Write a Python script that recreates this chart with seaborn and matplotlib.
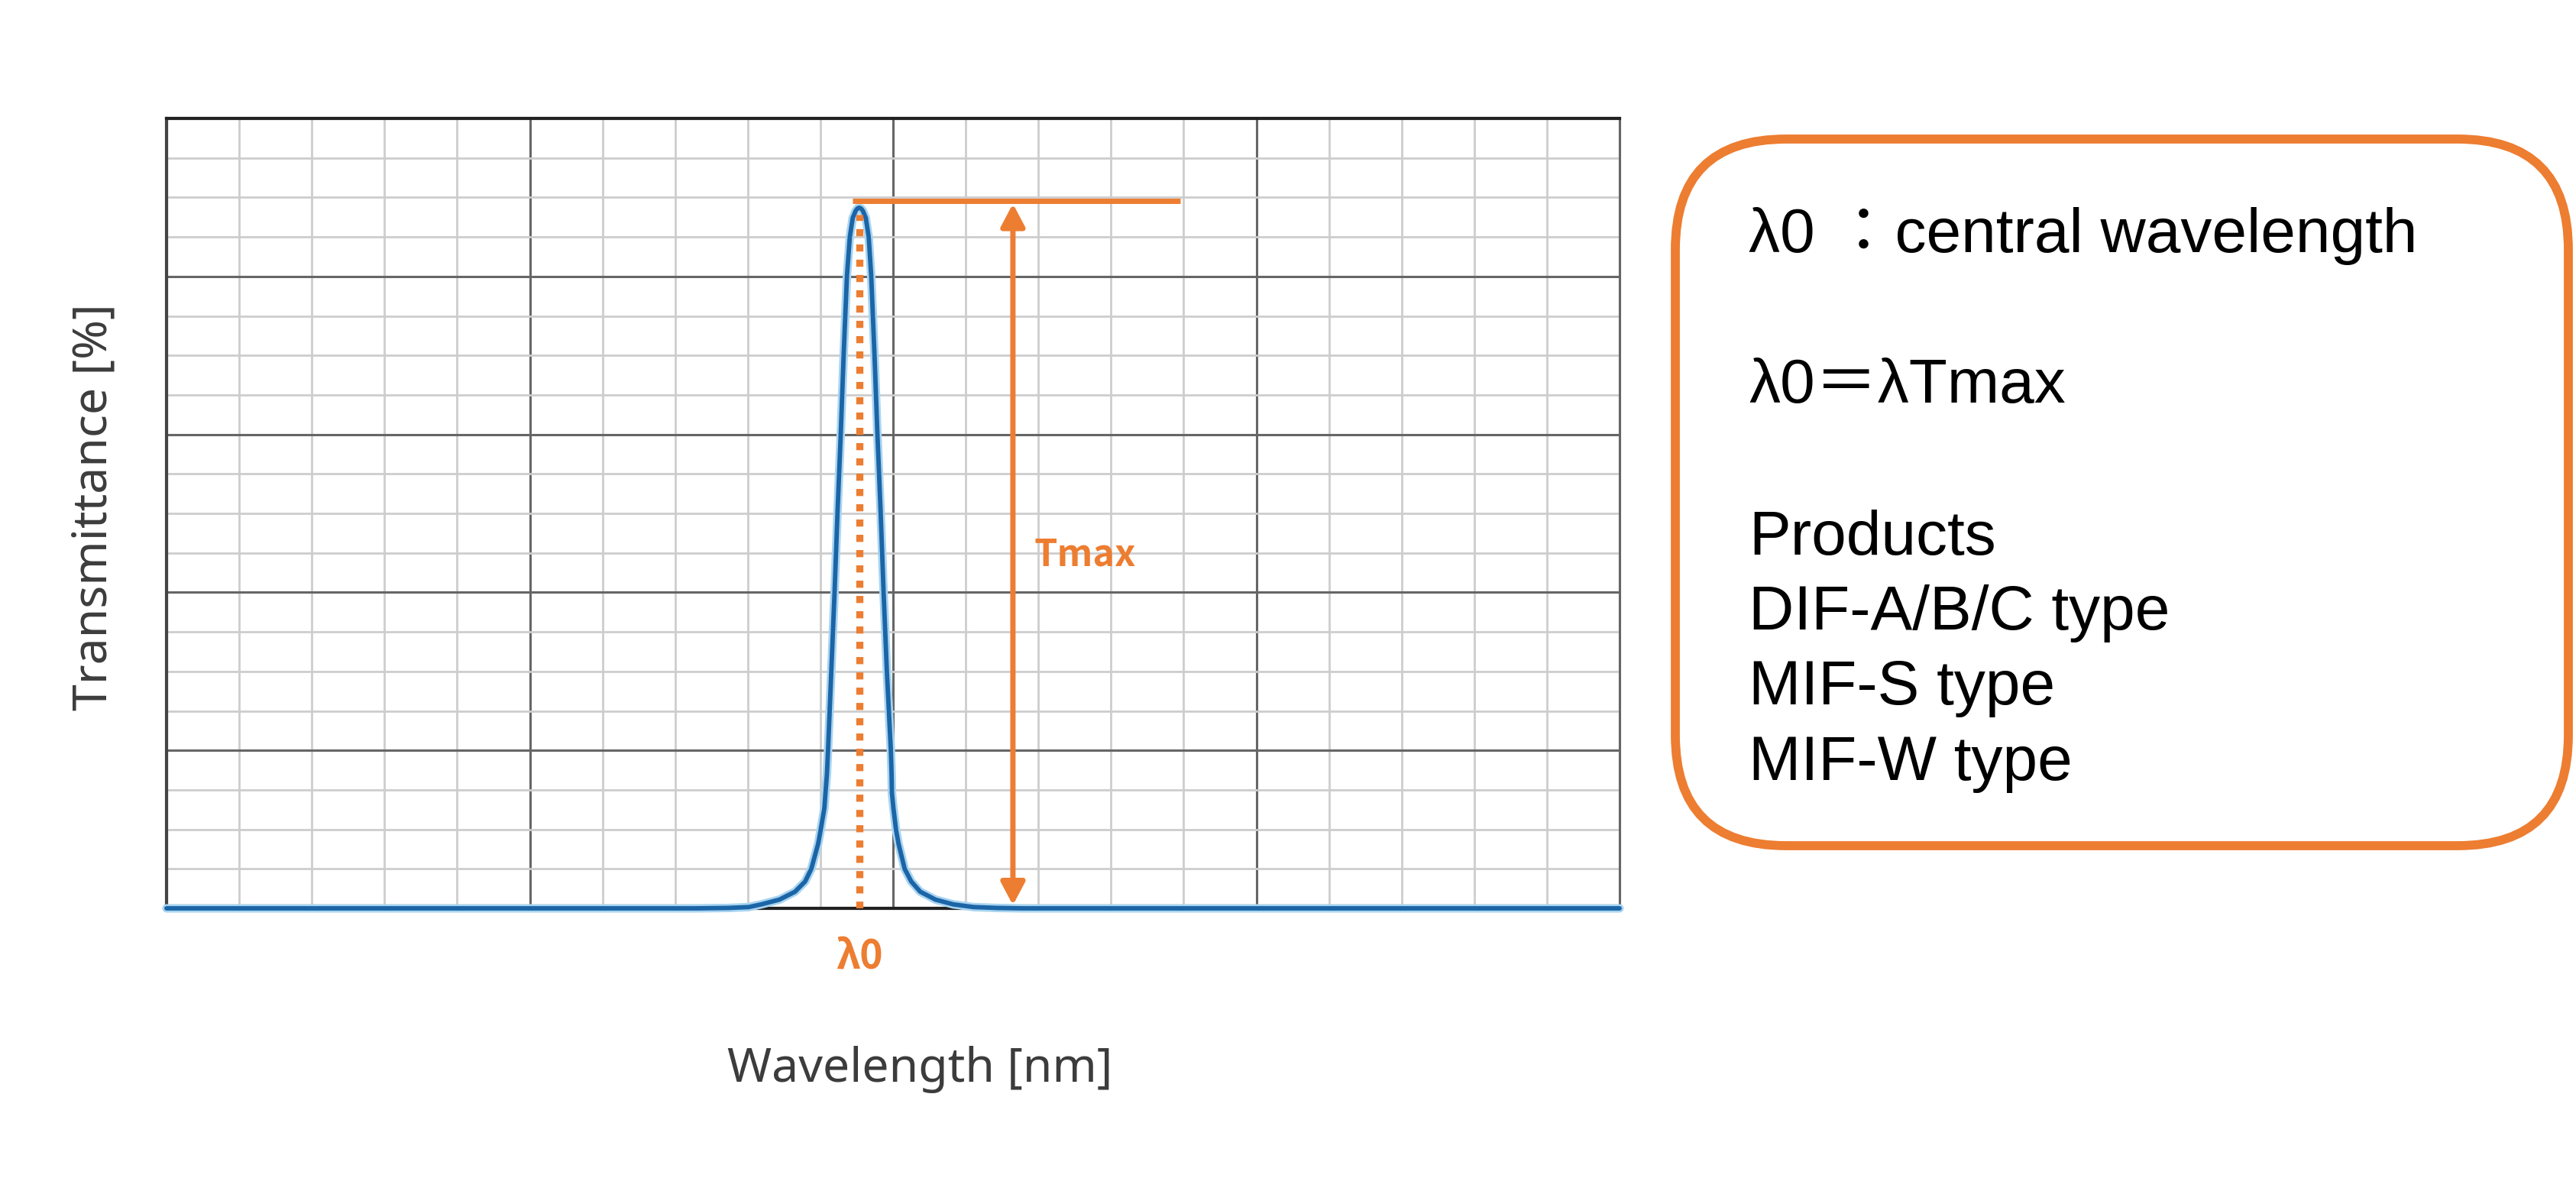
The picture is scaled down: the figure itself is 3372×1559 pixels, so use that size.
import numpy as np
import pandas as pd
import seaborn as sns
import matplotlib.pyplot as plt
from matplotlib.patches import FancyBboxPatch
from matplotlib.ticker import MultipleLocator

# transmittance curve
wavelength = [0, 145.7, 154.7, 160.3, 163.7, 168.7, 173.0, 175.8, 177.5, 179.4,
              180.1, 181.1, 181.4, 181.8, 182.1, 183.0, 183.9, 184.7, 185.6, 186.4,
              187.3, 188.1, 188.9, 189.7, 190.2, 190.7, 191.2, 191.7, 192.5, 193.3,
              194.0, 194.9, 195.7, 196.6, 197.4, 198.3, 199.4, 199.6, 199.7, 200.1,
              200.8, 201.5, 203.2, 205.0, 207.5, 211.7, 216.6, 222.2, 228.7, 235.7,
              400]
transmittance = [0, 0, 0.05, 0.16, 0.5, 1.1, 2.1, 3.4, 5.0, 8.2,
                 10, 12.7, 14.6, 17, 20, 30, 40, 50, 60, 70,
                 80, 85, 87.4, 88.3, 88.6, 88.7, 88.6, 88.3, 87.4, 85,
                 80, 70, 60, 50, 40, 30, 20, 17, 14.6, 12.7,
                 10, 8.2, 5.0, 3.4, 2.1, 1.1, 0.5, 0.16, 0.05, 0,
                 0]

lambda0 = 190.7
tmax_level = 89.6
tmax_line_start = 188.9
tmax_line_end = 279.1
arrow_x = 233.0

box_lines = ['λ0 ：central wavelength', 'λ0＝λTmax', 'Products',
             'DIF-A/B/C type', 'MIF-S type', 'MIF-W type']
box_baselines = [330, 527, 726, 824, 922, 1021]

orange = '#ED7D31'
blue = '#1b65a7'

sns.set_style('white')
plt.rcParams['font.family'] = ['Noto Sans', 'DejaVu Sans']

W, H = 3372, 1559
fig = plt.figure(figsize=(W / 100, H / 100), dpi=100)
ax = fig.add_axes([218 / W, 1 - 1189 / H, 1902 / W, 1034 / H])

df = pd.DataFrame({'wavelength': wavelength, 'transmittance': transmittance})

ax.set_xlim(0, 400)
ax.set_ylim(0, 100)
ax.xaxis.set_major_locator(MultipleLocator(100))
ax.xaxis.set_minor_locator(MultipleLocator(20))
ax.yaxis.set_major_locator(MultipleLocator(20))
ax.yaxis.set_minor_locator(MultipleLocator(5))
ax.grid(which='minor', color='#cdcdcd', linewidth=2.0)
ax.grid(which='major', color='#666666', linewidth=2.2)
ax.set_axisbelow(True)
ax.tick_params(which='both', length=0, labelbottom=False, labelleft=False)
for side in ['top', 'left', 'right', 'bottom']:
    ax.spines[side].set_color('#222222')
    ax.spines[side].set_linewidth(3)
ax.spines['left'].set_color('#444444')
ax.spines['right'].set_color('#666666')
ax.spines['right'].set_linewidth(2.2)

# soft halo then the curve
sns.lineplot(data=df, x='wavelength', y='transmittance', ax=ax,
             color='#a8d4f0', linewidth=8, zorder=3, clip_on=False)
sns.lineplot(data=df, x='wavelength', y='transmittance', ax=ax,
             color=blue, linewidth=4.2, zorder=4, clip_on=False)
ax.set_xlabel('')
ax.set_ylabel('')

# Tmax marker line, dotted lambda0 line, double arrow
ax.plot([tmax_line_start, tmax_line_end], [tmax_level, tmax_level], color=orange,
        linewidth=5, solid_capstyle='butt', zorder=5)
ax.plot([lambda0, lambda0], [0, 87.8], color=orange, linewidth=6.7,
        linestyle=(0, (1, 1.15)), dash_capstyle='butt', zorder=5)
ax.annotate('', xy=(arrow_x, 0.4), xytext=(arrow_x, tmax_level - 0.4),
            arrowprops=dict(arrowstyle='<|-|>,head_length=0.36,head_width=0.19',
                            mutation_scale=50, color=orange, lw=5,
                            shrinkA=0, shrinkB=0), zorder=5)
ax.text(238.7, 44.8, 'Tmax', color=orange, fontsize=35, fontweight='bold',
        ha='left', va='center', zorder=6, family=['Noto Sans CJK JP', 'DejaVu Sans'])
ax.text(lambda0, -6.2, 'λ0', color=orange, fontsize=37, fontweight='bold',
        ha='center', va='center', family=['Noto Sans CJK JP', 'DejaVu Sans'],
        clip_on=False)

# overlay in pixel coordinates for the axis titles and the note box
over = fig.add_axes([0, 0, 1, 1])
over.set_xlim(0, W)
over.set_ylim(H, 0)
over.axis('off')
over.patch.set_alpha(0)

over.text(1204, 1400, 'Wavelength [nm]', fontsize=45, color='#3c3c3c',
          ha='center', va='center')
over.text(123, 664, 'Transmittance [%]', fontsize=45, color='#3c3c3c',
          ha='center', va='center', rotation=90)

box = FancyBboxPatch((2193, 182), 3362 - 2193, 1107 - 182,
                     boxstyle='round,pad=0,rounding_size=145',
                     facecolor='white', edgecolor=orange, linewidth=8.5)
over.add_patch(box)
for line, yb in zip(box_lines, box_baselines):
    over.text(2289, yb, line, fontsize=59, color='black', ha='left', va='baseline',
              family=['Liberation Sans', 'Noto Sans CJK JP'])

fig.savefig('out.png', dpi=100)
